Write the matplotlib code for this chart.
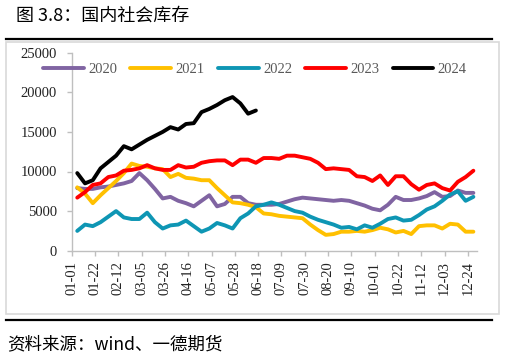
import numpy as np
import matplotlib.pyplot as plt
from matplotlib.patches import Rectangle
from matplotlib.lines import Line2D

# weekly social inventory, one list per year (first week ~ Jan 6th)
s2020 = [7900, 7800, 7800, 8000, 8100, 8300, 8500, 8800, 9800, 8900,
         7800, 6600, 6800, 6300, 6000, 5600, 6300, 7000, 5600, 5900,
         6800, 6800, 6000, 5800, 5800, 5800, 5900, 6200, 6500, 6700,
         6600, 6500, 6400, 6300, 6400, 6300, 6000, 5700, 5300, 5100,
         5800, 6800, 6400, 6400, 6600, 6900, 7400, 6800, 6900, 7600,
         7300, 7300]
s2021 = [8000, 7200, 6000, 7000, 7900, 8800, 9800, 11000, 10700, 10600,
         10400, 10300, 9300, 9700, 9200, 9100, 8900, 8900, 7900, 7000,
         6100, 6000, 5800, 5500, 4700, 4600, 4400, 4300, 4200, 4100,
         3300, 2600, 2000, 2100, 2400, 2400, 2500, 2400, 2600, 2900,
         2700, 2300, 2500, 2100, 3100, 3200, 3200, 2800, 3400, 3300,
         2400, 2400]
s2022 = [2500, 3300, 3100, 3600, 4300, 5000, 4200, 4000, 4000, 4800,
         3600, 2800, 3200, 3300, 3800, 3100, 2400, 2800, 3500, 3200,
         2800, 4100, 4700, 5600, 5800, 6100, 5800, 5400, 5000, 4800,
         4300, 3900, 3600, 3300, 2900, 3000, 2700, 3200, 2900, 3400,
         4000, 4200, 3800, 3900, 4500, 5200, 5600, 6300, 7100, 7500,
         6300, 6800]
s2023 = [6700, 7400, 8300, 8500, 9300, 9500, 10100, 10200, 10400, 10800,
         10400, 10200, 10200, 10800, 10500, 10600, 11100, 11300, 11400, 11400,
         10800, 11500, 11500, 11100, 11700, 11700, 11600, 12000, 12000, 11800,
         11600, 11100, 10300, 10400, 10300, 10200, 9400, 9300, 8800, 9500,
         8300, 9400, 9400, 8400, 7700, 8300, 8500, 7900, 7600, 8700,
         9300, 10100]
s2024 = [9800, 8500, 8900, 10400, 11200, 12000, 13200, 12800, 13400, 14000,
         14500, 15000, 15600, 15300, 16000, 16100, 17500, 17900, 18400, 19000,
         19400, 18600, 17300, 17700]

years = ['2020', '2021', '2022', '2023', '2024']
colors = ['#8064A2', '#FFC000', '#0E96B4', '#FF0000', '#000000']
series = [s2020, s2021, s2022, s2023, s2024]

tick_labels = ['01-01', '01-22', '02-12', '03-05', '03-26', '04-16', '05-07',
               '05-28', '06-18', '07-09', '07-30', '08-20', '09-10', '10-01',
               '10-22', '11-12', '12-03', '12-24']

plt.rcParams['font.family'] = ['Liberation Serif', 'DejaVu Serif']
cjk = ['Noto Sans CJK SC', 'DejaVu Sans']

fig = plt.figure(figsize=(5.06, 3.64), dpi=100)
W, H = 506, 364

# outer decoration: title, rules, grey frame, source
fig.text(16 / W, 1 - 16 / H, '图 3.8：国内社会库存', family=cjk, fontsize=13,
         va='center', ha='left', color='black')
fig.add_artist(Line2D([6 / W, 492 / W], [1 - 38.5 / H] * 2, color='black', lw=1.6))
fig.add_artist(Line2D([6 / W, 492 / W], [1 - 319.5 / H] * 2, color='black', lw=1.6))
fig.add_artist(Rectangle((6 / W, 1 - 314 / H), 493 / W, 272 / H, fill=False,
                         edgecolor='#D9D9D9', lw=1.2))
fig.text(7 / W, 1 - 344 / H, '资料来源：wind、一德期货', family=cjk, fontsize=12.6,
         va='center', ha='left', color='black')

ax = fig.add_axes([71.7 / W, 1 - 250.7 / H, 405 / W, 198 / H])

for name, col, vals in zip(years, colors, series):
    days = 5 + 7 * np.arange(len(vals))
    ax.plot(days, vals, color=col, lw=2.8, label=name,
            solid_joinstyle='round', solid_capstyle='round')

ax.set_xlim(0, 365)
ax.set_ylim(0, 25000)
ax.set_yticks(np.arange(0, 25001, 5000))
ax.set_xticks(np.arange(len(tick_labels)) * 21)
ax.set_xticklabels(tick_labels, rotation=90)

for side in ['top', 'right']:
    ax.spines[side].set_visible(False)
for side in ['left', 'bottom']:
    ax.spines[side].set_color('#BFBFBF')
    ax.spines[side].set_linewidth(1.0)
ax.tick_params(axis='y', direction='out', length=3.5, width=1, color='#BFBFBF',
               labelsize=10.5, labelcolor='#222222', pad=7)
ax.tick_params(axis='x', direction='out', length=3.5, width=1, color='#BFBFBF',
               labelsize=10.5, labelcolor='#222222', pad=4)

fig.legend(loc='center left', bbox_to_anchor=(43 / W, 1 - 69 / H), ncol=5,
           frameon=False, fontsize=10.5, labelcolor='#595959',
           handlelength=2.8, handletextpad=0.3, columnspacing=0.9,
           borderaxespad=0, borderpad=0)

fig.savefig('out.png', dpi=100)
